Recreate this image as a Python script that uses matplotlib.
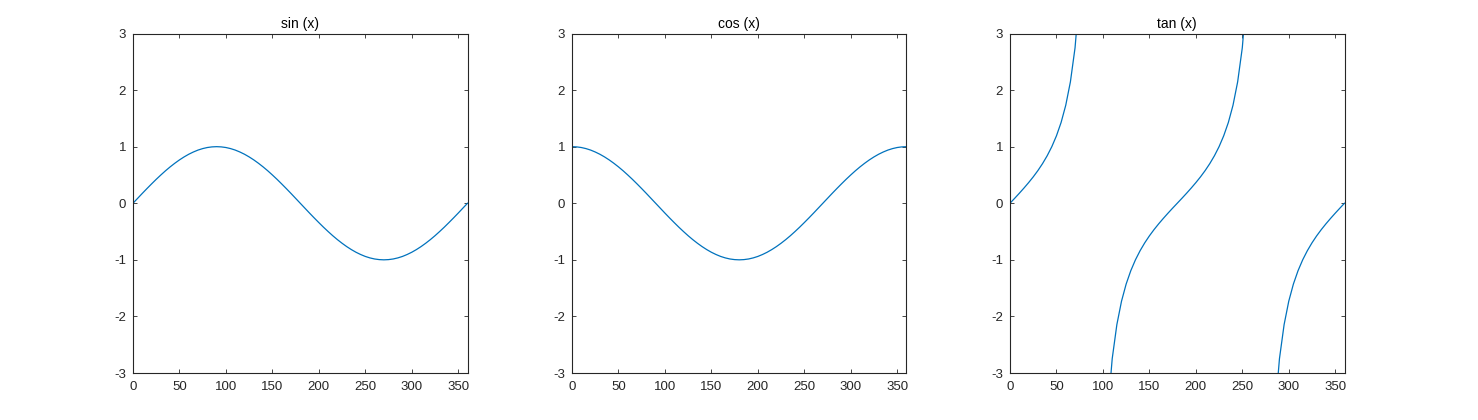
import matplotlib

matplotlib.use("Agg")
import matplotlib.pyplot as plt

# angle samples in degrees
angles = [
    0, 5, 10, 15, 20, 25, 30, 35, 40, 45, 50, 55, 60, 65, 70, 75, 80, 85,
    90, 95, 100, 105, 110, 115, 120, 125, 130, 135, 140, 145, 150, 155, 160, 165, 170, 175,
    180, 185, 190, 195, 200, 205, 210, 215, 220, 225, 230, 235, 240, 245, 250, 255, 260, 265,
    270, 275, 280, 285, 290, 295, 300, 305, 310, 315, 320, 325, 330, 335, 340, 345, 350, 355,
    360,
]

sin_vals = [
    0.0, 0.087, 0.174, 0.259, 0.342, 0.423, 0.5, 0.574, 0.643, 0.707, 0.766, 0.819, 0.866, 0.906, 0.940, 0.966, 0.985, 0.996,
    1.0, 0.996, 0.985, 0.966, 0.940, 0.906, 0.866, 0.819, 0.766, 0.707, 0.643, 0.574, 0.5, 0.423, 0.342, 0.259, 0.174, 0.087,
    0.0, -0.087, -0.174, -0.259, -0.342, -0.423, -0.5, -0.574, -0.643, -0.707, -0.766, -0.819, -0.866, -0.906, -0.940, -0.966, -0.985, -0.996,
    -1.0, -0.996, -0.985, -0.966, -0.940, -0.906, -0.866, -0.819, -0.766, -0.707, -0.643, -0.574, -0.5, -0.423, -0.342, -0.259, -0.174, -0.087,
    0.0,
]

cos_vals = [
    1.0, 0.996, 0.985, 0.966, 0.940, 0.906, 0.866, 0.819, 0.766, 0.707, 0.643, 0.574, 0.5, 0.423, 0.342, 0.259, 0.174, 0.087,
    0.0, -0.087, -0.174, -0.259, -0.342, -0.423, -0.5, -0.574, -0.643, -0.707, -0.766, -0.819, -0.866, -0.906, -0.940, -0.966, -0.985, -0.996,
    -1.0, -0.996, -0.985, -0.966, -0.940, -0.906, -0.866, -0.819, -0.766, -0.707, -0.643, -0.574, -0.5, -0.423, -0.342, -0.259, -0.174, -0.087,
    0.0, 0.087, 0.174, 0.259, 0.342, 0.423, 0.5, 0.574, 0.643, 0.707, 0.766, 0.819, 0.866, 0.906, 0.940, 0.966, 0.985, 0.996,
    1.0,
]

nan = float("nan")
tan_vals = [
    0.0, 0.087, 0.176, 0.268, 0.364, 0.466, 0.577, 0.700, 0.839, 1.0, 1.192, 1.428, 1.732, 2.145, 2.747, 3.732, 5.671, 11.43,
    nan, -11.43, -5.671, -3.732, -2.747, -2.145, -1.732, -1.428, -1.192, -1.0, -0.839, -0.700, -0.577, -0.466, -0.364, -0.268, -0.176, -0.087,
    0.0, 0.087, 0.176, 0.268, 0.364, 0.466, 0.577, 0.700, 0.839, 1.0, 1.192, 1.428, 1.732, 2.145, 2.747, 3.732, 5.671, 11.43,
    nan, -11.43, -5.671, -3.732, -2.747, -2.145, -1.732, -1.428, -1.192, -1.0, -0.839, -0.700, -0.577, -0.466, -0.364, -0.268, -0.176, -0.087,
    0.0,
]

titles = ["sin (x)", "cos (x)", "tan (x)"]
x_ticks = [0, 50, 100, 150, 200, 250, 300, 350]
y_ticks = [-3, -2, -1, 0, 1, 2, 3]

plt.rcParams["font.family"] = ["Liberation Sans", "DejaVu Sans"]
plt.rcParams["axes.unicode_minus"] = False

fig = plt.figure(figsize=(14.78, 4.2), dpi=100)
lefts = [133 / 1478, 572 / 1478, 1010 / 1478]
width = 334.5 / 1478
bottom = (420 - 373) / 420
height = 339.5 / 420

ink = "#262626"
for left, title, vals in zip(lefts, titles, [sin_vals, cos_vals, tan_vals]):
    ax = fig.add_axes([left, bottom, width, height])
    ax.plot(angles, vals, color="#0072BD", linewidth=0.9)
    ax.set_xlim(0, 360)
    ax.set_ylim(-3, 3)
    ax.set_xticks(x_ticks)
    ax.set_yticks(y_ticks)
    ax.tick_params(direction="in", length=3, width=0.6, colors=ink, labelsize=9.5,
                   top=True, right=True)
    ax.tick_params(axis="x", pad=6)
    ax.tick_params(axis="y", pad=5)
    for sp in ax.spines.values():
        sp.set_color(ink)
        sp.set_linewidth(0.8)
    ax.set_title(title, fontsize=10, color="black", pad=4)

fig.savefig("out.png", dpi=100)
plt.close(fig)
